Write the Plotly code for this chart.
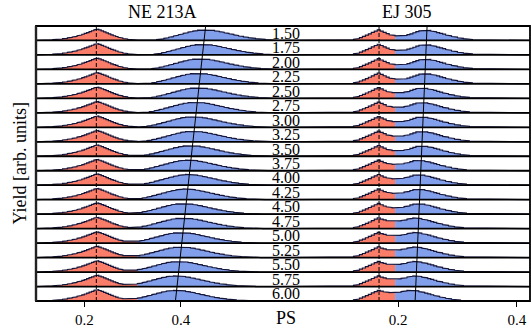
import numpy as np
import plotly.graph_objects as go

# ---------------- data ----------------
energies = ["1.50", "1.75", "2.00", "2.25", "2.50", "2.75", "3.00", "3.25", "3.50", "3.75",
            "4.00", "4.25", "4.50", "4.75", "5.00", "5.25", "5.50", "5.75", "6.00"]
panel_titles = ["NE 213A", "EJ 305"]

bin_width = 0.005

# NE 213A
left_gamma_peak = 0.225
left_neutron_peaks = [0.450, 0.447, 0.443, 0.440, 0.437, 0.433, 0.430, 0.427, 0.424, 0.420,
                      0.417, 0.414, 0.410, 0.407, 0.404, 0.400, 0.397, 0.394, 0.391]
left_cut = 0.31
# relative bin heights around the peak bin (offset of first entry given)
left_gamma_offset = -23
left_gamma_shape = [0.02, 0.03, 0.04, 0.05, 0.06, 0.07, 0.09, 0.11, 0.13, 0.16, 0.19, 0.23,
                    0.27, 0.31, 0.36, 0.42, 0.48, 0.55, 0.62, 0.70, 0.78, 0.86, 0.94, 1.00,
                    0.93, 0.85, 0.77, 0.68, 0.59, 0.50, 0.42, 0.35, 0.28, 0.22, 0.17, 0.13,
                    0.10, 0.07, 0.05, 0.035, 0.025, 0.015, 0.01, 0.005]
left_neutron_offset = -22
left_neutron_shape = [0.03, 0.05, 0.08, 0.11, 0.15, 0.20, 0.25, 0.30, 0.36, 0.42, 0.48, 0.54,
                      0.60, 0.66, 0.72, 0.78, 0.83, 0.88, 0.92, 0.96, 0.98, 1.00, 1.00, 0.99,
                      0.97, 0.94, 0.90, 0.86, 0.82, 0.77, 0.72, 0.67, 0.62, 0.57, 0.52, 0.47,
                      0.42, 0.38, 0.34, 0.30, 0.26, 0.23, 0.20, 0.17, 0.14, 0.12, 0.10, 0.08,
                      0.06, 0.05, 0.04, 0.03, 0.02, 0.015, 0.01]
left_amp = (0.78, 0.74)

# EJ 305
right_gamma_peak = 0.168
right_neutron_peaks = [0.248, 0.247, 0.246, 0.245, 0.244, 0.243, 0.242, 0.241, 0.240, 0.239,
                       0.238, 0.237, 0.236, 0.235, 0.234, 0.233, 0.231, 0.230, 0.228]
right_cut = 0.195
right_gamma_offset = -11
right_gamma_shape = [0.015, 0.03, 0.06, 0.11, 0.18, 0.27, 0.38, 0.50, 0.62, 0.75, 0.88, 1.00,
                     0.88, 0.76, 0.64, 0.53, 0.43, 0.34, 0.26, 0.19, 0.13, 0.08, 0.05, 0.03,
                     0.015]
right_neutron_offset = -11
right_neutron_shape = [0.05, 0.10, 0.17, 0.26, 0.36, 0.47, 0.59, 0.71, 0.83, 0.93, 0.99, 1.00,
                       0.96, 0.90, 0.83, 0.76, 0.68, 0.60, 0.52, 0.45, 0.38, 0.32, 0.26, 0.21,
                       0.17, 0.13, 0.10, 0.07, 0.05, 0.035, 0.025, 0.015, 0.01]
right_amp = (0.74, 0.72)

panels = [
    dict(x0=0.1, x1=0.604, gpeak=left_gamma_peak, npeaks=left_neutron_peaks, cut=left_cut,
         goff=left_gamma_offset, gshape=left_gamma_shape, noff=left_neutron_offset,
         nshape=left_neutron_shape, amp=left_amp, xa="x", ya="y"),
    dict(x0=0.0, x1=0.422, gpeak=right_gamma_peak, npeaks=right_neutron_peaks, cut=right_cut,
         goff=right_gamma_offset, gshape=right_gamma_shape, noff=right_neutron_offset,
         nshape=right_neutron_shape, amp=right_amp, xa="x2", ya="y2"),
]

RED = "#F97D68"
BLUE = "#819FEB"
EDGE = "#15153a"

nrows = len(energies)
fig = go.Figure()


def place(h, edges, peak, offset, shape, amp):
    p = int(np.floor((peak - edges[0]) / bin_width))
    for j, v in enumerate(shape):
        k = p + offset + j
        if 0 <= k < len(h):
            h[k] += amp * v


def step_poly(edges, h, base):
    xs, ys = [edges[0]], [base]
    for i, v in enumerate(h):
        xs += [edges[i], edges[i + 1]]
        ys += [base + v, base + v]
    xs.append(edges[-1])
    ys.append(base)
    return xs, ys


for P in panels:
    nb = int(round((P["x1"] - P["x0"]) / bin_width))
    edges = P["x0"] + bin_width * np.arange(nb + 1)
    for r in range(nrows):
        base = nrows - 1 - r
        h = np.zeros(nb)
        place(h, edges, P["gpeak"], P["goff"], P["gshape"], P["amp"][0])
        place(h, edges, P["npeaks"][r], P["noff"], P["nshape"], P["amp"][1])
        ncut = int(round((P["cut"] - P["x0"]) / bin_width))
        for sl, col in ((slice(0, ncut), RED), (slice(ncut, nb), BLUE)):
            e = edges[sl.start: (sl.stop + 1)]
            xs, ys = step_poly(e, h[sl], base)
            fig.add_trace(go.Scatter(x=xs, y=ys, mode="lines", fill="toself", fillcolor=col,
                                     line=dict(width=0), hoverinfo="skip", showlegend=False,
                                     xaxis=P["xa"], yaxis=P["ya"]))
        xs, ys = step_poly(edges, h, base)
        fig.add_trace(go.Scatter(x=xs, y=ys, mode="lines", line=dict(color=EDGE, width=1.2),
                                 hoverinfo="skip", showlegend=False,
                                 xaxis=P["xa"], yaxis=P["ya"]))

shapes = []
for P in panels:
    # dashed gamma line
    shapes.append(dict(type="line", xref=P["xa"], yref=P["ya"], x0=P["gpeak"], x1=P["gpeak"],
                       y0=0, y1=nrows, line=dict(color="black", width=1, dash="4px,2px"),
                       layer="above"))
    # neutron peak trend line
    yc = np.array([nrows - 1 - r + 0.5 for r in range(nrows)])
    a, b = np.polyfit(yc, np.array(P["npeaks"]), 1)
    shapes.append(dict(type="line", xref=P["xa"], yref=P["ya"], x0=a * 0 + b, x1=a * nrows + b,
                       y0=0, y1=nrows, line=dict(color="black", width=1), layer="above"))

for k in range(1, nrows):
    shapes.append(dict(type="line", xref="paper", yref="y", x0=0, x1=1, y0=k, y1=k,
                       line=dict(color="black", width=1.8), layer="above"))
shapes.append(dict(type="rect", xref="paper", yref="paper", x0=0, x1=1, y0=0, y1=1,
                   line=dict(color="black", width=1.8), layer="above"))
shapes.append(dict(type="line", xref="paper", yref="paper", x0=0, x1=0, y0=0, y1=1,
                   line=dict(color="#222", width=2.4), layer="above"))

SERIF = "Liberation Serif"
annotations = []
for r, lab in enumerate(energies):
    annotations.append(dict(text=lab, xref="paper", yref="y", x=0.506, y=nrows - 1 - r + 0.5,
                            showarrow=False, font=dict(family=SERIF, size=16, color="black"),
                            xanchor="center", yanchor="middle"))
annotations.append(dict(text=panel_titles[0], xref="paper", yref="paper", x=0.256, y=1.0,
                        yshift=14, showarrow=False, font=dict(family=SERIF, size=18, color="black"),
                        xanchor="center", yanchor="middle"))
annotations.append(dict(text=panel_titles[1], xref="paper", yref="paper", x=0.752, y=1.0,
                        yshift=14, showarrow=False, font=dict(family=SERIF, size=18, color="black"),
                        xanchor="center", yanchor="middle"))
annotations.append(dict(text="PS", xref="paper", yref="paper", x=0.506, y=0, yshift=-17,
                        showarrow=False, font=dict(family=SERIF, size=18, color="black"),
                        xanchor="center", yanchor="middle"))
annotations.append(dict(text="Yield [arb. units]", xref="paper", yref="paper", x=0, xshift=-17,
                        y=0.5, textangle=-90, showarrow=False,
                        font=dict(family=SERIF, size=18, color="black"),
                        xanchor="center", yanchor="middle"))

axis_common = dict(tickvals=[0.2, 0.4], ticktext=["0.2", "0.4"], ticks="outside", ticklen=5,
                   tickwidth=1, tickcolor="black", showgrid=False, zeroline=False,
                   showline=False, tickfont=dict(family=SERIF, size=15, color="black"))
yaxis_common = dict(range=[0, nrows], showgrid=False, zeroline=False, showticklabels=False,
                    ticks="", showline=False, domain=[0, 1])
split = 0.4923
fig.update_layout(
    width=531, height=331,
    margin=dict(l=36, r=1, t=26, b=30),
    paper_bgcolor="white", plot_bgcolor="white",
    xaxis=dict(domain=[0, split], range=[0.1, 0.604], anchor="y", **axis_common),
    xaxis2=dict(domain=[split, 1], range=[0.0, 0.422], anchor="y2", **axis_common),
    yaxis=dict(anchor="x", **yaxis_common),
    yaxis2=dict(anchor="x2", **yaxis_common),
    shapes=shapes, annotations=annotations, showlegend=False,
)

fig.write_html("out.html", config={"displayModeBar": False},
               post_script="document.body.style.margin='0';document.body.style.overflow='hidden';")
